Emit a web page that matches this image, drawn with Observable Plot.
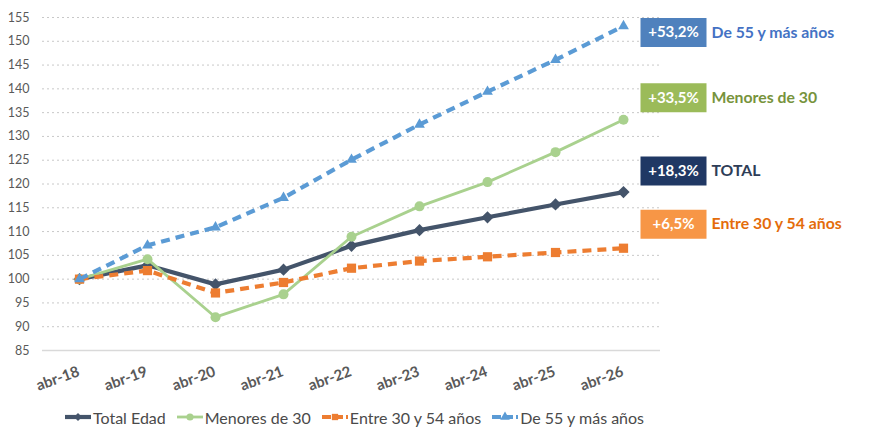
<!DOCTYPE html>
<html>
<head>
<meta charset="utf-8">
<script src="https://cdn.jsdelivr.net/npm/d3@7"></script>
<script src="https://cdn.jsdelivr.net/npm/@observablehq/plot@0.6"></script>
<style>
  html, body { margin: 0; padding: 0; background: #ffffff; }
  body { width: 886px; height: 446px; overflow: hidden; font-family: Lato, "Open Sans", sans-serif; }
  #chart svg { display: block; }
  #legend { display: flex; align-items: center; height: 30px; padding-left: 64px; gap: 10px;
            font-size: 16px; color: #4a4a4a; margin-top: 0px; }
  #legend .item { display: flex; align-items: center; }
  #legend svg { display: block; margin-right: 1px; }
</style>
</head>
<body>
<div id="chart"></div>
<div id="legend"></div>
<script>
// Periods on the horizontal axis
const fechas = ["abr-18", "abr-19", "abr-20", "abr-21", "abr-22", "abr-23", "abr-24", "abr-25", "abr-26"];

// Index (abr-18 = 100) per age group
const totalEdad  = [100, 102.9, 98.9, 102.0, 107.0, 110.3, 113.0, 115.7, 118.3];
const menores30  = [100, 104.2, 92.0, 96.8, 108.9, 115.3, 120.4, 126.7, 133.5];
const entre30y54 = [100, 101.8, 97.1, 99.3, 102.3, 103.8, 104.7, 105.6, 106.5];
const de55ymas   = [100, 107.1, 110.9, 117.1, 125.1, 132.5, 139.4, 146.1, 153.2];

const series = ["Total Edad", "Menores de 30", "Entre 30 y 54 años", "De 55 y más años"];
const etiquetas = ["TOTAL", "Menores de 30", "Entre 30 y 54 años", "De 55 y más años"];
const variaciones = ["+18,3%", "+33,5%", "+6,5%", "+53,2%"];

const yTicks = d3.range(85, 156, 5);

// Styling per series
const estilos = [
  {line: "#44546A", box: "#203864", text: "#2E3D57", width: 4.2, dash: null, symbol: "diamond2", r: 5.5, dy: -21},
  {line: "#A9D18E", box: "#9BBB59", text: "#77933C", width: 2.8, dash: null, symbol: "circle", r: 5, dy: -22},
  {line: "#ED7D31", box: "#F79646", text: "#E46C0A", width: 4.2, dash: "9,6", symbol: "square", r: 5.2, dy: -24},
  {line: "#5B9BD5", box: "#4F81BD", text: "#4472C4", width: 4.2, dash: "9,6", symbol: "triangle", r: 4, dy: 6.5}
];

const valores = [totalEdad, menores30, entre30y54, de55ymas];
const datos = valores.flatMap((vals, i) => vals.map((v, j) => ({serie: series[i], fecha: fechas[j], valor: v})));

// Rectangle used as the background of the percentage labels
const caja = {draw(ctx) { ctx.rect(-33, -14.5, 66, 29); }};

const marks = [
  Plot.ruleY(yTicks.filter(t => t > 85), {stroke: "#c8c8c8", strokeWidth: 1, strokeDasharray: "2,3"}),
  Plot.ruleY([85], {stroke: "#d9d9d9", strokeWidth: 1.5}),
  Plot.axisY({ticks: yTicks, tickSize: 0, tickPadding: 13, label: null, fontSize: 12.5, fill: "#595959", tickFormat: d => d}),
  Plot.text(fechas, {x: d => d, frameAnchor: "bottom", dy: 25, dx: 1, rotate: -20, textAnchor: "end",
                     fontWeight: "bold", fontSize: 15, fill: "#595959"})
];

series.forEach((s, i) => {
  const st = estilos[i];
  const d = datos.filter(e => e.serie === s);
  marks.push(Plot.line(d, {x: "fecha", y: "valor", stroke: st.line, strokeWidth: st.width,
                           strokeDasharray: st.dash, strokeLinecap: "butt"}));
  marks.push(Plot.dot(d, {x: "fecha", y: "valor", symbol: st.symbol, fill: st.line, r: st.r, stroke: "none"}));
});

series.forEach((s, i) => {
  const st = estilos[i];
  const ultimo = [{fecha: fechas[fechas.length - 1], valor: valores[i][valores[i].length - 1]}];
  marks.push(Plot.dot(ultimo, {x: "fecha", y: "valor", symbol: caja, r: 1, fill: st.box, stroke: "none", dx: 50, dy: st.dy}));
  marks.push(Plot.text(ultimo, {x: "fecha", y: "valor", text: () => variaciones[i], dx: 50, dy: st.dy,
                                fill: "#ffffff", fontWeight: "bold", fontSize: 15}));
  marks.push(Plot.text(ultimo, {x: "fecha", y: "valor", text: () => etiquetas[i], dx: 88, dy: st.dy,
                                textAnchor: "start", fill: st.text, fontWeight: "bold", fontSize: 15.8}));
});

const chart = Plot.plot({
  width: 886,
  height: 402,
  marginLeft: 42,
  marginRight: 226,
  marginTop: 17,
  marginBottom: 52,
  style: {fontFamily: "Lato, 'Open Sans', sans-serif", background: "transparent", overflow: "visible"},
  x: {type: "point", domain: fechas, padding: 0.5, axis: null},
  y: {domain: [85, 155], axis: null},
  marks
});
document.getElementById("chart").appendChild(chart);

// Legend below the plot
const legend = d3.select("#legend");
series.forEach((s, i) => {
  const st = estilos[i];
  const item = legend.append("div").attr("class", "item");
  const sw = item.append("svg").attr("width", 28).attr("height", 14);
  sw.append("line").attr("x1", 1).attr("x2", 27).attr("y1", 7).attr("y2", 7)
    .attr("stroke", st.line).attr("stroke-width", st.width)
    .attr("stroke-dasharray", st.dash ? "9,3" : null);
  const sym = {diamond2: d3.symbolDiamond2, circle: d3.symbolCircle, square: d3.symbolSquare, triangle: d3.symbolTriangle}[st.symbol];
  sw.append("path").attr("transform", "translate(14,7)")
    .attr("d", d3.symbol(sym, 40)()).attr("fill", st.line);
  item.append("span").text(s);
});
</script>
</body>
</html>
